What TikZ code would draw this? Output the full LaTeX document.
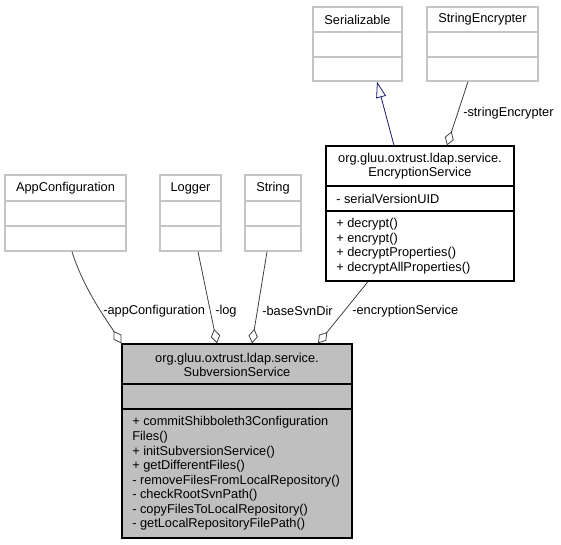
\documentclass[tikz,border=0pt]{standalone}
\usepackage{fontspec}
\setmainfont{Liberation Sans}
\usetikzlibrary{arrows.meta,fit}
\definecolor{edgegray}{HTML}{404040}
\definecolor{subgray}{HTML}{BFBFBF}
\definecolor{extgray}{HTML}{C4C4C4}
\definecolor{inhblue}{HTML}{191970}
\tikzset{
  extclass/.style={draw=extgray, line width=1pt, fill=white, inner sep=0pt, fit={#1}},
  mainclass/.style={draw=black, line width=0.9pt, fill=white, inner sep=0pt, fit={#1}},
  extline/.style={draw=extgray, line width=1pt},
  mainline/.style={draw=black, line width=0.9pt},
  ctitle/.style={inner sep=0pt, align=center, font=\fontsize{9.6}{10.6}\selectfont},
  cmembers/.style={inner sep=0pt, anchor=west, align=left, font=\fontsize{9.6}{10.9}\selectfont},
  lbl/.style={inner sep=0pt, anchor=west, font=\fontsize{9.6}{10.6}\selectfont},
  aggr/.style={draw=edgegray, line width=0.6pt, -{Diamond[open, length=11pt, width=7pt]}},
  inherit/.style={draw=inhblue, line width=0.6pt, -{Triangle[open, length=12pt, width=7.5pt]}}
}
\begin{document}
\begin{tikzpicture}[x=0.75pt, y=-0.75pt]
  \useasboundingbox (0,0) rectangle (561,544);

  % interfaces and used classes
  \node[extclass={(313,7) (402,81)}] (ser) {};
  \node[extclass={(427,7) (538,81)}] (senc) {};
  \node[extclass={(5,175) (126,251)}] (appc) {};
  \node[extclass={(160,175) (221,251)}] (logr) {};
  \node[extclass={(245,175) (301,251)}] (str) {};
  \foreach \n/\ya/\yb in {ser/32/57, senc/32/57, appc/201/226, logr/201/226, str/201/226} {
    \draw[extline] (\n.west |- 0,\ya) -- (\n.east |- 0,\ya);
    \draw[extline] (\n.west |- 0,\yb) -- (\n.east |- 0,\yb);
  }
  \node[ctitle] (sertxt) at (ser.north |- 0,19.5) {Serializable};
  \node[ctitle] (senctxt) at (senc.north |- 0,19.5) {StringEncrypter};
  \node[ctitle] (appctxt) at (appc.north |- 0,188) {AppConfiguration};
  \node[ctitle] (logrtxt) at (logr.north |- 0,188) {Logger};
  \node[ctitle] (strtxt) at (str.north |- 0,188) {String};

  % EncryptionService
  \node[mainclass={(326,146) (514,281)}] (enc) {};
  \draw[mainline] (enc.west |- 0,186) -- (enc.east |- 0,186);
  \draw[mainline] (enc.west |- 0,211) -- (enc.east |- 0,211);
  \node[ctitle] (enctxt) at (enc.north |- 0,166.5) {org.gluu.oxtrust.ldap.service.\\EncryptionService};
  \node[cmembers] (encattr) at (336,198.5) {- serialVersionUID};
  \node[cmembers] (encops) at (336,246) {+ decrypt()\\+ encrypt()\\+ decryptProperties()\\+ decryptAllProperties()};

  % SubversionService
  \node[mainclass={(122,344) (352,538)}, fill=subgray] (sub) {};
  \draw[mainline] (sub.west |- 0,384) -- (sub.east |- 0,384);
  \draw[mainline] (sub.west |- 0,409) -- (sub.east |- 0,409);
  \node[ctitle] (subtxt) at (sub.north |- 0,365) {org.gluu.oxtrust.ldap.service.\\SubversionService};
  \node[cmembers] (subops) at (132,473.5) {+ commitShibboleth3Configuration\\Files()\\+ initSubversionService()\\+ getDifferentFiles()\\- removeFilesFromLocalRepository()\\- checkRootSvnPath()\\- copyFilesToLocalRepository()\\- getLocalRepositoryFilePath()};

  % relations
  \draw[inherit] (394,0 |- enc.north) -- (377,0 |- ser.south);
  \draw[aggr] (468,0 |- senc.south) -- (447,0 |- enc.north);
  \draw[aggr] (72,0 |- appc.south) .. controls (84,290) and (108,322) .. (sub.north west);
  \draw[aggr] (198,0 |- logr.south) -- (217,0 |- sub.north);
  \draw[aggr] (267,0 |- str.south) -- (252,0 |- sub.north);
  \draw[aggr] (368,0 |- enc.south) -- (318,0 |- sub.north);

  \node[lbl] (lsenc) at (463,113) {-stringEncrypter};
  \node[lbl] (lappc) at (103,311) {-appConfiguration};
  \node[lbl] (llogr) at (215,311) {-log};
  \node[lbl] (lstr) at (262,311) {-baseSvnDir};
  \node[lbl] (lenc) at (352,311) {-encryptionService};
\end{tikzpicture}
\end{document}
